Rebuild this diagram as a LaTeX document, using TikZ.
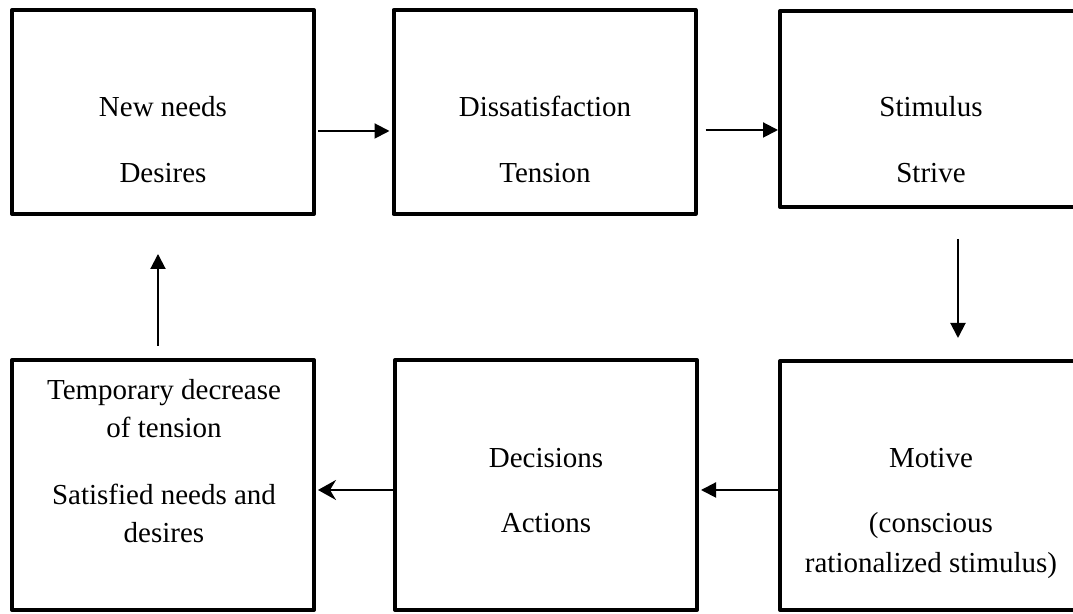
\documentclass[tikz,border=0pt]{standalone}
\usepackage{fontspec}
\setmainfont{Liberation Serif}
\usetikzlibrary{arrows.meta}

\begin{document}
\begin{tikzpicture}[x=0.5pt, y=0.5pt,
    box/.style={draw, line width=2pt, line join=round, minimum width=151pt, inner sep=0pt},
    txt/.style={align=center, anchor=base, inner sep=0pt, font=\fontsize{14.5}{19}\selectfont},
    arr/.style={-{Triangle[length=7.5pt, width=7.5pt]}, line width=1pt},
    sarr/.style={-{Stealth[length=9pt, width=10pt, inset=3pt]}, line width=1pt}
  ]
  \useasboundingbox (0,0) rectangle (1073,614);

  % Top row
  \node[box, minimum height=102pt] (needs) at (163,502) {};
  \node[txt] (needsText) at (163,431) {New needs\\[14pt]Desires};

  \node[box, minimum height=102pt] (dissat) at (544.5,502) {};
  \node[txt] (dissatText) at (545,431) {Dissatisfaction\\[14pt]Tension};

  \node[box, minimum height=98pt] (stim) at (931,505) {};
  \node[txt] (stimText) at (931,431) {Stimulus\\[14pt]Strive};

  % Bottom row
  \node[box, minimum height=125pt] (temp) at (163,129) {};
  \node[txt] (tempText) at (164,71) {Temporary decrease\\of tension\\[14.5pt]Satisfied needs and\\desires};

  \node[box, minimum height=125pt] (decide) at (546,129) {};
  \node[txt] (decideText) at (546,81) {Decisions\\[13.5pt]Actions};

  \node[box, minimum height=124.5pt] (motive) at (931,128.5) {};
  \node[txt] (motiveText) at (931,41) {Motive\\[13.5pt](conscious\\[1pt]rationalized stimulus)};

  % Connectors
  \draw[arr, shorten <=1pt, shorten >=1pt] ([yshift=-9.5pt]needs.east) -- ([yshift=-9.5pt]dissat.west);
  \draw[arr, shorten <=4pt] ([yshift=-9pt]dissat.east) -- ([yshift=-10.5pt]stim.west);
  \draw[arr, shorten <=15pt, shorten >=10.5pt] ([xshift=13.5pt]stim.south) -- ([xshift=13.5pt]motive.north);
  \draw[arr, shorten >=1pt] ([yshift=-2.25pt]motive.west) -- ([yshift=-2.5pt]decide.east);
  \draw[sarr, shorten >=1pt] ([yshift=-2.5pt]decide.west) -- ([yshift=-2.5pt]temp.east);
  \draw[arr, shorten <=6pt, shorten >=19pt] ([xshift=-2.5pt]temp.north) -- ([xshift=-2.5pt]needs.south);
\end{tikzpicture}
\end{document}
